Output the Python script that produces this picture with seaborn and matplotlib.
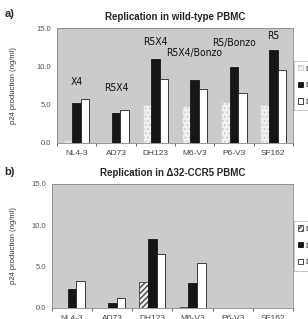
import numpy as np
import pandas as pd
import seaborn as sns
import matplotlib.pyplot as plt
from matplotlib.patches import Patch

sns.set_style("white")
plt.rcParams['font.family'] = ['Liberation Sans', 'DejaVu Sans']

# data
viruses = ['NL4-3', 'AD73', 'DH123', 'M6-V3', 'P6-V3', 'SF162']
days = ['Day 4', 'Day 7', 'Day 10']
tropism = ['X4', 'R5X4', 'R5X4', 'R5X4/Bonzo', 'R5/Bonzo', 'R5']
tropism_y = [7.9, 7.2, 13.2, 11.8, 13.1, 13.9]

wt_day4 = [0.4, 0.0, 4.9, 4.8, 5.4, 5.0]
wt_day7 = [5.2, 3.9, 11.0, 8.2, 9.9, 12.1]
wt_day10 = [5.8, 4.3, 8.4, 7.1, 6.5, 9.5]

d32_day4 = [0.05, 0.0, 3.1, 0.1, 0.0, 0.0]
d32_day7 = [2.25, 0.55, 8.4, 3.0, 0.0, 0.0]
d32_day10 = [3.25, 1.15, 6.5, 5.4, 0.0, 0.0]


def long_df(a, b, c):
    rows = []
    for day, vals in zip(days, [a, b, c]):
        for v, val in zip(viruses, vals):
            rows.append({'virus': v, 'day': day, 'p24': val})
    return pd.DataFrame(rows)


fill = ['#f2f2f2', '#161616', '#ffffff']

fig = plt.figure(figsize=(3.08, 3.19), dpi=100)
ax_a = fig.add_axes([0.185, 0.552, 0.766, 0.360])
ax_b = fig.add_axes([0.169, 0.0345, 0.782, 0.389])


def draw(ax, df, title, hatch_light, light_edge, ylab_x):
    sns.barplot(data=df, x='virus', y='p24', hue='day', palette=fill,
                width=0.65, gap=0, ax=ax, legend=False, errorbar=None)
    edge = [light_edge, '#161616', '#222222']
    n = len(viruses)
    for i, p in enumerate(ax.patches[:3 * n]):
        k = i // n
        p.set_edgecolor(edge[k])
        p.set_linewidth(0.6)
        if k == 0:
            p.set_hatch(hatch_light)
    ax.set_facecolor('#cbcbcb')
    ax.set_ylim(0, 15)
    ax.set_yticks([0, 5, 10, 15])
    ax.set_yticklabels(['0.0', '5.0', '10.0', '15.0'])
    ax.set_xlim(-0.5, n - 0.5)
    ax.set_xlabel('')
    ax.set_ylabel('p24 production (ng/ml)', fontsize=5.5, color='#333333')
    ax.yaxis.set_label_coords(ylab_x, 0.5)
    ax.tick_params(axis='y', labelsize=5.5, labelcolor='#555555', length=2, width=0.5, pad=2)
    ax.tick_params(axis='x', labelsize=6, labelcolor='#444444', length=0, pad=5)
    ax.set_xticks(np.arange(-0.5, n, 1.0), minor=True)
    ax.tick_params(axis='x', which='minor', length=2, width=0.5, bottom=True)
    for s in ax.spines.values():
        s.set_color('#888888')
        s.set_linewidth(0.6)
    ax.set_title(title, fontsize=7, fontweight='bold', pad=6)
    handles = [Patch(facecolor=fill[k], edgecolor=edge[k], linewidth=0.6,
                     hatch=hatch_light if k == 0 else None) for k in range(3)]
    leg = ax.legend(handles, days, loc='center left', bbox_to_anchor=(1.005, 0.5),
                    fontsize=6, frameon=True, fancybox=False, handlelength=0.6,
                    handleheight=0.6, handletextpad=0.3, labelspacing=1.1,
                    borderpad=0.5, borderaxespad=0)
    leg.get_frame().set_edgecolor('#999999')
    leg.get_frame().set_linewidth(0.5)


draw(ax_a, long_df(wt_day4, wt_day7, wt_day10), 'Replication in wild-type PBMC',
     '....', '#cfcfcf', -0.17)
draw(ax_b, long_df(d32_day4, d32_day7, d32_day10), 'Replication in \u039432-CCR5 PBMC',
     '//////', '#444444', -0.145)

fig.text(0.015, 0.955, 'a)', fontsize=8, fontweight='bold', ha='left', va='center')
fig.text(0.015, 0.462, 'b)', fontsize=8, fontweight='bold', ha='left', va='center')

for i, (lab, y) in enumerate(zip(tropism, tropism_y)):
    ax_a.text(i, y, lab, ha='center', va='center', fontsize=7.5,
              family='DejaVu Sans', fontstretch='condensed', color='#111111')

fig.savefig('out.png', dpi=100)
